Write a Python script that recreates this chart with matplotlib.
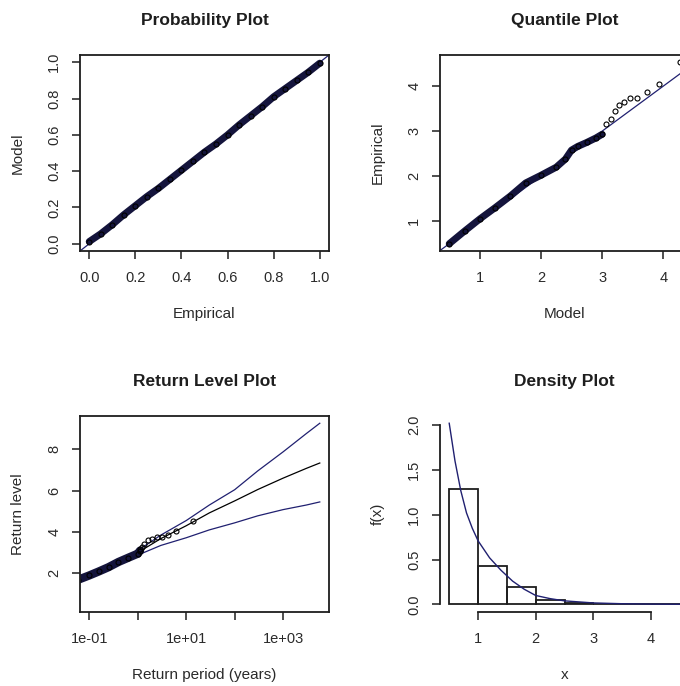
import numpy as np
import matplotlib
matplotlib.use("Agg")
import matplotlib.pyplot as plt

plt.rcParams['font.family'] = ['Liberation Sans', 'DejaVu Sans']

# probability plot: empirical vs model probabilities
pp_emp = [0.0, 0.05, 0.1, 0.15, 0.2, 0.25, 0.3, 0.35, 0.4, 0.45, 0.5,
          0.55, 0.6, 0.65, 0.7, 0.75, 0.8, 0.85, 0.9, 0.95, 1.0]
pp_model = [0.012, 0.055, 0.105, 0.16, 0.21, 0.26, 0.305, 0.355, 0.405, 0.455, 0.505,
            0.55, 0.6, 0.655, 0.705, 0.755, 0.81, 0.855, 0.9, 0.945, 0.995]

# quantile plot: dense body and the sparse upper tail
qq_model = [0.5, 0.75, 1.0, 1.25, 1.5, 1.75, 2.0, 2.25, 2.4, 2.5, 2.6, 2.75, 2.9, 3.0]
qq_emp = [0.5, 0.78, 1.05, 1.3, 1.56, 1.85, 2.02, 2.2, 2.38, 2.58, 2.66, 2.75, 2.85, 2.93]
tail_model = [3.07, 3.15, 3.21, 3.28, 3.36, 3.45, 3.57, 3.74, 3.93, 4.27]
tail_emp = [3.17, 3.28, 3.44, 3.59, 3.65, 3.74, 3.74, 3.87, 4.05, 4.53]

# return level plot
rl_period = [0.1, 0.3, 1, 3, 10, 30, 100, 300, 1000, 3000, 5700]
rl_level = [1.85, 2.45, 3.0, 3.68, 4.3, 4.92, 5.5, 6.05, 6.6, 7.07, 7.33]
rl_upper = [1.9, 2.5, 3.1, 3.85, 4.55, 5.3, 6.04, 6.95, 7.87, 8.75, 9.25]
rl_lower = [1.8, 2.38, 2.88, 3.35, 3.72, 4.1, 4.44, 4.78, 5.08, 5.3, 5.45]
obs_period = [0.06, 0.1, 0.16, 0.25, 0.4, 0.63, 1.0, 1.12]
obs_level = [1.7, 1.9, 2.1, 2.3, 2.55, 2.75, 2.95, 3.1]
obs_tail_period = [1.12, 1.23, 1.38, 1.66, 2.0, 2.51, 3.16, 4.17, 6.31, 13.8]

# density plot: histogram and fitted density
hist_breaks = [0.5, 1.0, 1.5, 2.0, 2.5, 3.0, 3.5, 4.0, 4.5]
hist_heights = [1.29, 0.43, 0.19, 0.055, 0.02, 0.008, 0.004, 0.004]
dens_x = [0.5, 0.6, 0.7, 0.8, 0.9, 1.0, 1.2, 1.4, 1.6, 1.8, 2.0, 2.25, 2.5,
          3.0, 3.5, 4.0, 4.5, 5.0]
dens_y = [2.02, 1.6, 1.27, 1.02, 0.85, 0.71, 0.52, 0.38, 0.26, 0.17, 0.10, 0.065,
          0.04, 0.017, 0.008, 0.004, 0.002, 0.001]

LINE = '#202070'
BAND = '#14143c'
INK = '#1e1e1e'
TXT = '#2a2a2a'

W, H = 680, 686
fig = plt.figure(figsize=(W / 100, H / 100), dpi=100)


def box(l, t, r, b):
    return [l / W, 1 - b / H, (r - l) / W, (b - t) / H]


def pad(lo, hi):
    d = 0.04 * (hi - lo)
    return lo - d, hi + d


def style(ax, title, xlabel, ylabel, frame=True):
    for s in ax.spines.values():
        s.set_linewidth(1.3)
        s.set_color(INK)
        s.set_visible(frame)
    ax.tick_params(direction='out', length=5.5, width=1.1, color=INK,
                   labelsize=10.5, labelcolor=TXT)
    ax.tick_params(axis='x', pad=9)
    ax.tick_params(axis='y', pad=8)
    plt.setp(ax.get_yticklabels(), rotation=90, va='center')
    bb = ax.get_position()
    hpx, wpx = bb.height * H, bb.width * W
    ax.text(0.5, 1 + 35 / hpx, title, transform=ax.transAxes, ha='center',
            va='center', fontsize=12.5, fontweight='bold', color=INK)
    ax.set_xlabel(xlabel, fontsize=11, color=TXT, va='center')
    ax.xaxis.set_label_coords(0.5, -63 / hpx)
    ax.set_ylabel(ylabel, fontsize=11, color=TXT, va='center')
    ax.yaxis.set_label_coords(-62 / wpx, 0.5)


# Probability plot
ax = fig.add_axes(box(80, 55, 329, 251))
ax.set_xlim(pad(0, 1))
ax.set_ylim(pad(0, 1))
ax.axline((0, 0), slope=1, color=LINE, lw=0.9)
ax.plot(pp_emp, pp_model, color=BAND, lw=5, solid_capstyle='round')
ax.plot(pp_emp, pp_model, 'o', mfc='none', mec='black', ms=3.6, mew=0.8)
ax.set_xticks([0, 0.2, 0.4, 0.6, 0.8, 1.0])
ax.set_yticks([0, 0.2, 0.4, 0.6, 0.8, 1.0])
ax.set_xticklabels(['0.0', '0.2', '0.4', '0.6', '0.8', '1.0'])
ax.set_yticklabels(['0.0', '0.2', '0.4', '0.6', '0.8', '1.0'])
style(ax, 'Probability Plot', 'Empirical', 'Model')

# Quantile plot
ax = fig.add_axes(box(440, 55, 689, 251))
ax.set_xlim(pad(min(qq_model), max(tail_model)))
ax.set_ylim(pad(min(qq_emp), max(tail_emp)))
ax.axline((1, 1), slope=1, color=LINE, lw=0.9)
ax.plot(qq_model, qq_emp, color=BAND, lw=5, solid_capstyle='round')
ax.plot(qq_model + tail_model, qq_emp + tail_emp, 'o', mfc='none', mec='black',
        ms=3.6, mew=0.8)
ax.set_xticks([1, 2, 3, 4])
ax.set_yticks([1, 2, 3, 4])
style(ax, 'Quantile Plot', 'Model', 'Empirical')

# Return level plot
ax = fig.add_axes(box(80, 416, 329, 611.7))
ax.set_xscale('log')
lo, hi = pad(np.log10(0.1), np.log10(max(rl_period)))
ax.set_xlim(10 ** lo, 10 ** hi)
ax.set_ylim(pad(0.5, max(rl_upper)))
ax.plot(rl_period, rl_level, color='black', lw=0.9)
ax.plot(rl_period, rl_upper, color=LINE, lw=0.9)
ax.plot(rl_period, rl_lower, color=LINE, lw=0.9)
ax.plot(obs_period, obs_level, color=BAND, lw=6, solid_capstyle='round')
ax.plot(obs_period + obs_tail_period, obs_level + tail_emp, 'o', mfc='none',
        mec='black', ms=3.6, mew=0.8)
ax.set_xticks([0.1, 1, 10, 100, 1000])
ax.set_xticklabels(['1e-01', '', '1e+01', '', '1e+03'])
ax.xaxis.set_minor_locator(matplotlib.ticker.NullLocator())
ax.set_yticks([2, 4, 6, 8])
style(ax, 'Return Level Plot', 'Return period (years)', 'Return level')

# Density plot
ax = fig.add_axes(box(440, 416, 689, 611.7))
ax.set_xlim(pad(hist_breaks[0], hist_breaks[-1]))
ax.set_ylim(pad(0, max(dens_y)))
ax.bar(hist_breaks[:-1], hist_heights, width=np.diff(hist_breaks), align='edge',
       fill=False, edgecolor=INK, lw=1.3)
ax.plot(dens_x, dens_y, color=LINE, lw=1.0)
ax.set_xticks([1, 2, 3, 4])
ax.set_yticks([0, 0.5, 1.0, 1.5, 2.0])
ax.set_yticklabels(['0.0', '0.5', '1.0', '1.5', '2.0'])
style(ax, 'Density Plot', 'x', 'f(x)', frame=False)
ax.spines['bottom'].set_visible(True)
ax.spines['left'].set_visible(True)
ax.spines['bottom'].set_bounds(1, 4)
ax.spines['left'].set_bounds(0, 2)

fig.savefig('out.png', dpi=100)
